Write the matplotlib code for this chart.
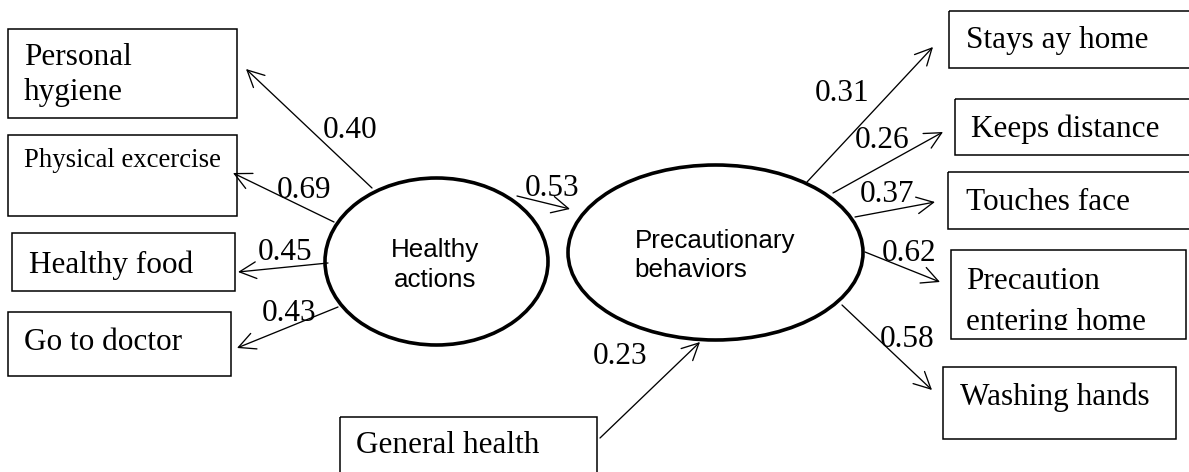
import matplotlib
matplotlib.use("Agg")
import matplotlib.pyplot as plt
from matplotlib.patches import Rectangle, Ellipse
from matplotlib.transforms import Bbox, TransformedBbox

# ---------------- data ----------------
left_indicators = ["Personal\nhygiene", "Physical excercise", "Healthy food", "Go to doctor"]
left_loadings = [0.40, 0.69, 0.45, 0.43]
right_indicators = ["Stays ay home", "Keeps distance", "Touches face",
                    "Precaution\nentering home", "Washing hands"]
right_loadings = [0.31, 0.26, 0.37, 0.62, 0.58]
latent_names = ["Healthy\nactions", "Precautionary\nbehaviors"]
structural_coef = 0.53
covariate_name = "General health"
covariate_coef = 0.23

# ---------------- layout (pixel space) ----------------
W, H = 1189, 472
SERIF = ["Liberation Serif", "DejaVu Serif"]
SANS = ["Liberation Sans", "DejaVu Sans"]
FS_BIG = 22.5
FS_SMALL = 19.3
FS_SANS = 18.7

# boxes: x0, y0, x1, y1
left_boxes = [(8, 29, 237, 118), (8, 135, 237, 216), (12, 233, 235, 291), (8, 312, 231, 376)]
left_text_x = [24, 24, 29, 24]
left_text_base = [[65, 100], [167], [273], [350]]
left_text_size = [FS_BIG, FS_SMALL, FS_BIG, FS_BIG]
left_tails = [(372, 188), (334, 222), (328, 263), (338, 307)]
left_heads = [(246, 69), (233, 173), (238, 272), (237, 348)]
left_label_pos = [(323, 138), (277, 198), (258, 260), (262, 321)]

right_boxes = [(949, 11, 1200, 68), (955, 99, 1200, 155), (948, 172, 1200, 229),
               (951, 250, 1186, 339), (943, 367, 1176, 439)]
right_text_x = [966, 971, 966, 966, 960]
right_text_base = [[48], [137], [210], [289, 330], [405]]
right_tails = [(807, 182), (833, 193), (855, 217), (865, 252), (842, 305)]
right_heads = [(933, 47), (943, 132), (935, 202), (940, 282), (932, 390)]
right_label_pos = [(815, 101), (855, 148), (860, 202), (882, 261), (880, 347)]

ell_centers = [(436.5, 261.5), (715.5, 252.5)]
ell_sizes = [(223, 167), (295, 175)]

cov_box = (340, 417, 597, 490)
cov_text = (356, 453)
cov_tail, cov_head = (600, 438), (700, 342)
cov_label = (593, 364)

str_tail, str_head = (517, 196), (570, 209)
str_label = (525, 196)

# ---------------- drawing ----------------
fig = plt.figure(figsize=(W / 100, H / 100), dpi=100)
ax = fig.add_axes([0, 0, 1, 1])
ax.set_xlim(0, W)
ax.set_ylim(H, 0)
ax.axis("off")

BOX_LW = 1.1
ARROW_LW = 0.95


def box(b):
    x0, y0, x1, y1 = b
    ax.add_patch(Rectangle((x0, y0), x1 - x0, y1 - y0, fill=False,
                           edgecolor="black", lw=BOX_LW, clip_on=False))


def arrow(tail, head):
    ax.annotate("", xy=head, xytext=tail,
                arrowprops=dict(arrowstyle="->,head_length=0.6,head_width=0.3",
                                lw=ARROW_LW, color="black", shrinkA=0, shrinkB=0,
                                mutation_scale=20))


def coef_label(pos, val):
    ax.text(pos[0], pos[1], f"{val:.2f}", family=SERIF, fontsize=FS_BIG,
            ha="left", va="baseline")


for i, name in enumerate(left_indicators):
    box(left_boxes[i])
    for line, base in zip(name.split("\n"), left_text_base[i]):
        ax.text(left_text_x[i], base, line, family=SERIF, fontsize=left_text_size[i],
                ha="left", va="baseline")
    arrow(left_tails[i], left_heads[i])
    coef_label(left_label_pos[i], left_loadings[i])

for i, name in enumerate(right_indicators):
    box(right_boxes[i])
    x0, y0, x1, y1 = right_boxes[i]
    for line, base in zip(name.split("\n"), right_text_base[i]):
        t = ax.text(right_text_x[i], base, line, family=SERIF, fontsize=FS_BIG,
                    ha="left", va="baseline")
        if "\n" in name:
            # text in the reference is cut off inside the box
            t.set_clip_box(TransformedBbox(Bbox([[x0, y0], [x1, 330]]), ax.transData))
            t.set_clip_on(True)
    arrow(right_tails[i], right_heads[i])
    coef_label(right_label_pos[i], right_loadings[i])

# latent ellipses
for (cx, cy), (w, h) in zip(ell_centers, ell_sizes):
    ax.add_patch(Ellipse((cx, cy), w, h, fill=False, edgecolor="black", lw=2.6))

l1, l2 = latent_names[0].split("\n")
ax.text(435, 257, l1, family=SANS, fontsize=FS_SANS, ha="center", va="baseline")
ax.text(435, 287, l2, family=SANS, fontsize=FS_SANS, ha="center", va="baseline")
p1, p2 = latent_names[1].split("\n")
ax.text(635, 248, p1, family=SANS, fontsize=FS_SANS, ha="left", va="baseline")
ax.text(634, 277, p2, family=SANS, fontsize=FS_SANS, ha="left", va="baseline")

# structural path
arrow(str_tail, str_head)
coef_label(str_label, structural_coef)

# covariate
box(cov_box)
ax.text(cov_text[0], cov_text[1], covariate_name, family=SERIF, fontsize=FS_BIG,
        ha="left", va="baseline")
arrow(cov_tail, cov_head)
coef_label(cov_label, covariate_coef)

fig.savefig("out.png", dpi=100, facecolor="white")
